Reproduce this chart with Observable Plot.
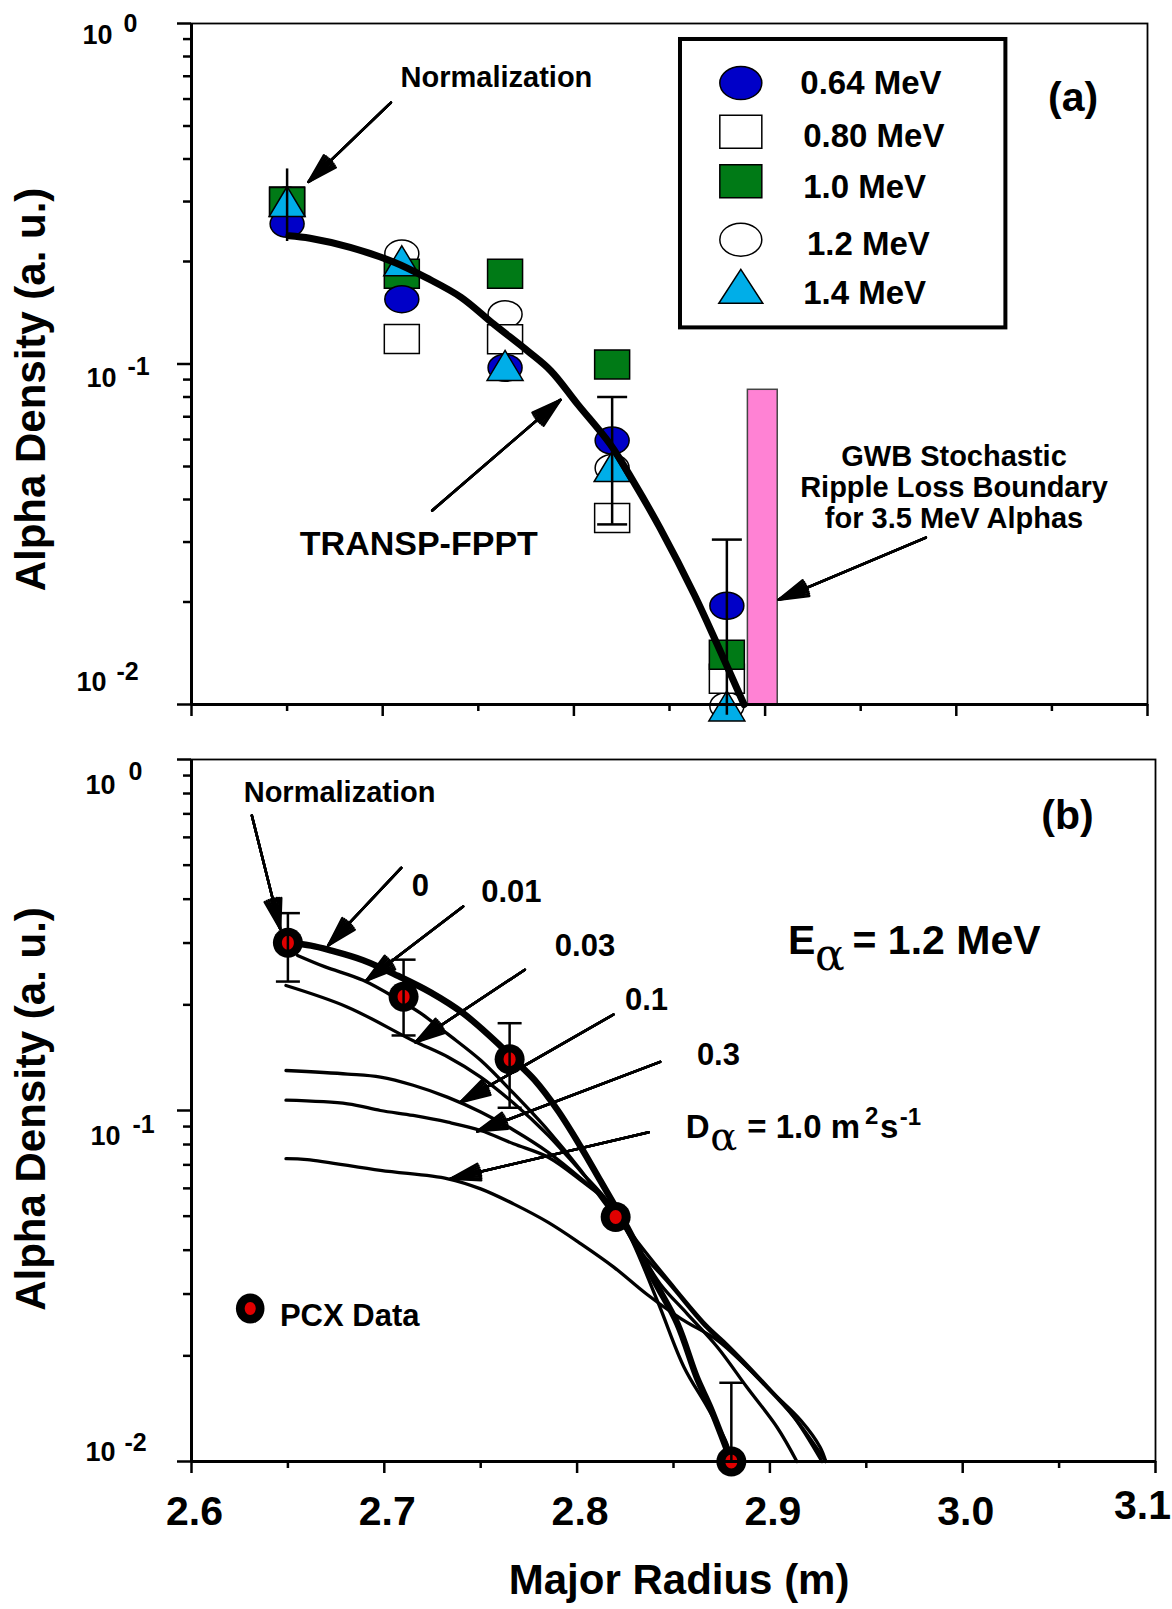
<!DOCTYPE html>
<html><head><meta charset="utf-8">
<script src="https://cdn.jsdelivr.net/npm/d3@7"></script>
<script src="https://cdn.jsdelivr.net/npm/@observablehq/plot@0.6"></script>
<style>
html,body{margin:0;padding:0;background:#fff;}
#chart{position:relative;width:1172px;height:1609px;background:#fff;overflow:hidden;}
#chart svg{position:absolute;left:0;overflow:visible;}
</style></head><body><div id="chart"></div>
<script>
// ---------------- Panel (a) data ----------------
const radiusA = [2.65, 2.71, 2.764, 2.82, 2.88];
const dens064 = [0.258, 0.155, 0.0975, 0.0596, 0.0195];
const dens080 = [0.300, 0.1185, 0.1183, 0.0353, 0.0119];
const dens100 = [0.299, 0.184, 0.184, 0.0997, 0.0140];
const dens120 = [0.302, 0.211, 0.140, 0.0495, 0.0099];
const dens140 = [0.300, 0.201, 0.099, 0.0500, 0.0099];
const errRadiusA = [2.65, 2.82, 2.88];
const errHighA = [0.374, 0.0800, 0.0305];
const errLowA = [0.229, 0.0338, 0.0093];
const transpRadius = [2.651, 2.662, 2.683, 2.706, 2.723, 2.741, 2.758, 2.776, 2.788, 2.802, 2.819, 2.831, 2.845, 2.863, 2.875, 2.889];
const transpDens = [0.238, 0.234, 0.220, 0.199, 0.179, 0.157, 0.131, 0.109, 0.0954, 0.0761, 0.0581, 0.0453, 0.0330, 0.0210, 0.0150, 0.0100];
const rippleRadius = [2.891, 2.9066];
const rippleTop = 0.084;
const legendLabelsA = ["0.64 MeV", "0.80 MeV", "1.0 MeV", "1.2 MeV", "1.4 MeV"];

// ---------------- Panel (b) data ----------------
const radiusB = [2.65, 2.71, 2.765, 2.82, 2.88];
const pcxDens = [0.3006, 0.211, 0.140, 0.0497, 0.0100];
const errRadiusB = [2.65, 2.71, 2.765, 2.88];
const errHighB = [0.365, 0.269, 0.1773, 0.01676];
const errLowB = [0.233, 0.1636, 0.1018, 0.0100];
const diffLabels = ["0", "0.01", "0.03", "0.1", "0.3", "1.0"];
const radiusD0 = [2.651, 2.662, 2.672, 2.689, 2.707, 2.724, 2.741, 2.759, 2.767, 2.778, 2.790, 2.802, 2.812, 2.821, 2.826, 2.840, 2.852, 2.862, 2.869, 2.880];
const densD0 = [0.300, 0.295, 0.286, 0.268, 0.242, 0.217, 0.189, 0.155, 0.140, 0.122, 0.100, 0.0786, 0.0632, 0.0519, 0.0465, 0.0328, 0.0247, 0.0174, 0.0143, 0.0100];
const radiusD001 = [2.655, 2.669, 2.689, 2.708, 2.719, 2.733, 2.750, 2.767, 2.785, 2.802, 2.816, 2.824, 2.8415, 2.8554, 2.8675, 2.8778, 2.880];
const densD001 = [0.2766, 0.257, 0.235, 0.206, 0.189, 0.165, 0.139, 0.112, 0.0877, 0.0675, 0.053, 0.0475, 0.0288, 0.0186, 0.0143, 0.0112, 0.0100];
const radiusD003 = [2.649, 2.681, 2.715, 2.733, 2.750, 2.767, 2.785, 2.802, 2.816, 2.831, 2.8432, 2.857, 2.8727, 2.888, 2.9038, 2.914];
const densD003 = [0.227, 0.197, 0.158, 0.142, 0.1245, 0.105, 0.085, 0.067, 0.055, 0.041, 0.032, 0.0264, 0.0212, 0.0163, 0.0125, 0.0100];
const radiusD01 = [2.649, 2.681, 2.698, 2.715, 2.733, 2.750, 2.767, 2.785, 2.802, 2.817, 2.831, 2.848, 2.867, 2.878, 2.895, 2.912, 2.927];
const densD01 = [0.130, 0.127, 0.1245, 0.118, 0.109, 0.099, 0.088, 0.076, 0.064, 0.054, 0.0425, 0.0325, 0.0245, 0.0215, 0.0172, 0.0135, 0.0100];
const radiusD03 = [2.649, 2.681, 2.698, 2.715, 2.733, 2.750, 2.767, 2.785, 2.802, 2.817, 2.831, 2.848, 2.867, 2.878, 2.895, 2.9124, 2.929];
const densD03 = [0.107, 0.1045, 0.100, 0.0968, 0.0926, 0.0877, 0.0804, 0.0736, 0.0632, 0.054, 0.0408, 0.032, 0.0241, 0.0212, 0.0170, 0.0134, 0.0100];
const radiusD1 = [2.649, 2.660, 2.698, 2.733, 2.750, 2.767, 2.785, 2.802, 2.819, 2.836, 2.854, 2.873, 2.888, 2.902, 2.916, 2.926, 2.929];
const densD1 = [0.0729, 0.0725, 0.0675, 0.0639, 0.0598, 0.0542, 0.0480, 0.0417, 0.0358, 0.0300, 0.0255, 0.0221, 0.0186, 0.0156, 0.0131, 0.0110, 0.0100];

// ---------------- Axis tick values & labels ----------------
const xTickValues = [2.6, 2.65, 2.7, 2.75, 2.8, 2.85, 2.9, 2.95, 3.0, 3.05, 3.1];
const xTickLabels = ["2.6", "2.7", "2.8", "2.9", "3.0", "3.1"];
const yTickMajor = [1, 0.1, 0.01];
const yTickExponents = ["0", "-1", "-2"];
const yTickMinor = [0.02, 0.03, 0.04, 0.05, 0.06, 0.07, 0.08, 0.09, 0.2, 0.3, 0.4, 0.5, 0.6, 0.7, 0.8, 0.9];

// ---------------- Annotation anchors (data units) ----------------
const annotA = [
  {text: "Normalization", x: 2.7595, y: 0.6908, size: 29},
  {text: "TRANSP-FPPT", x: 2.7189, y: 0.02949, size: 34},
  {text: "GWB Stochastic", x: 2.9988, y: 0.05324, size: 29},
  {text: "Ripple Loss Boundary", x: 2.9988, y: 0.04318, size: 29},
  {text: "for 3.5 MeV Alphas", x: 2.9988, y: 0.03501, size: 29},
  {text: "(a)", x: 3.0611, y: 0.6067, size: 41}
];
const arrowsA = [
  {x1: 2.7043, y1: 0.586, x2: 2.6612, y2: 0.3426},
  {x1: 2.7259, y1: 0.03713, x2: 2.7930, y2: 0.07848},
  {x1: 2.9841, y1: 0.0309, x2: 2.9071, y2: 0.02032}
];
const legendBoxA = {x1: 2.85575, x2: 3.02594, y1: 0.12765, y2: 0.8975};
const legendSymX = 2.8873;
const legendSymY = [0.6683, 0.4808, 0.3441, 0.2318, 0.1691];
const legendTextX = [2.9184, 2.9199, 2.9199, 2.9219, 2.9199];
const legendTextY = [0.6647, 0.4645, 0.3303, 0.2251, 0.1607];

const annotB = [
  {text: "Normalization", x: 2.6768, y: 0.8033, size: 29},
  {text: diffLabels[0], x: 2.7187, y: 0.4371, size: 31},
  {text: diffLabels[1], x: 2.7659, y: 0.4183, size: 31},
  {text: diffLabels[2], x: 2.8041, y: 0.2950, size: 31},
  {text: diffLabels[3], x: 2.8360, y: 0.2065, size: 31},
  {text: diffLabels[4], x: 2.8733, y: 0.1443, size: 31},
  {text: "(b)", x: 3.05436, y: 0.6930, size: 41}
];
const arrowsB = [
  {x1: 2.6313, y1: 0.6926, x2: 2.6460, y2: 0.3294},
  {x1: 2.7088, y1: 0.4913, x2: 2.6709, y2: 0.2952},
  {x1: 2.7409, y1: 0.3814, x2: 2.6907, y2: 0.2346},
  {x1: 2.7729, y1: 0.2518, x2: 2.7162, y2: 0.1565},
  {x1: 2.8189, y1: 0.1877, x2: 2.7395, y2: 0.1056},
  {x1: 2.8431, y1: 0.1376, x2: 2.7482, y2: 0.0873},
  {x1: 2.8372, y1: 0.08675, x2: 2.7343, y2: 0.06389}
];
const eAlphaAnchor = {x: 2.9094, y: 0.3042};
const dAlphaAnchor = {x: 2.8564, y: 0.0894};
const pcxLegend = {x: 2.63045, y: 0.02728, tx: 2.64585, ty: 0.02597};

// ---------------- Styling helpers ----------------
const FONT = "'Liberation Sans', Arial, Helvetica, sans-serif";
const SERIF = "'DejaVu Serif', 'Liberation Serif', serif";
const BLUE = "#0000c8", GREEN = "#007a16", CYAN = "#00aee8", PINK = "#ff82d4", RED = "#e00000";
const W = 1172;

function ellipseSymbol(rx, ry) {
  const k = 0.5523;
  return {draw(c) {
    c.moveTo(rx, 0);
    c.bezierCurveTo(rx, ry * k, rx * k, ry, 0, ry);
    c.bezierCurveTo(-rx * k, ry, -rx, ry * k, -rx, 0);
    c.bezierCurveTo(-rx, -ry * k, -rx * k, -ry, 0, -ry);
    c.bezierCurveTo(rx * k, -ry, rx, -ry * k, rx, 0);
    c.closePath();
  }};
}
function rectSymbol(w, h) {
  return {draw(c) { c.moveTo(-w/2, -h/2); c.lineTo(w/2, -h/2); c.lineTo(w/2, h/2); c.lineTo(-w/2, h/2); c.closePath(); }};
}
function triSymbol(w, h) {
  return {draw(c) { c.moveTo(0, -h/2); c.lineTo(w/2, h/2); c.lineTo(-w/2, h/2); c.closePath(); }};
}
function capSymbol(w) {
  return {draw(c) { c.moveTo(-w/2, 0); c.lineTo(w/2, 0); }};
}
function filledArrows(data) {
  return [32, 24, 16, 8, 1].map(a => Plot.arrow(data, {
    x1: "x1", y1: "y1", x2: "x2", y2: "y2",
    stroke: "black", strokeWidth: 2.5, headAngle: a, headLength: 18.5
  }));
}
const txt = (o) => Object.assign({fill: "black", fontFamily: FONT, fontWeight: "bold"}, o);

function axisMarks(plotW, plotH, labelOffsets) {
  const majorX = xTickValues.filter((d, i) => i % 2 === 0);
  const minorX = xTickValues.filter((d, i) => i % 2 === 1);
  const marks = [
    Plot.frame({stroke: "black", strokeWidth: 1.8}),
    Plot.ruleX(majorX, {x: d => d, insetTop: plotH, insetBottom: -12, stroke: "black", strokeWidth: 2.5}),
    Plot.ruleX(minorX, {x: d => d, insetTop: plotH, insetBottom: -7, stroke: "black", strokeWidth: 2.5}),
    Plot.ruleY(yTickMajor, {y: d => d, insetLeft: -14, insetRight: plotW, stroke: "black", strokeWidth: 2.5}),
    Plot.ruleY(yTickMinor, {y: d => d, insetLeft: -8, insetRight: plotW, stroke: "black", strokeWidth: 2.5}),
    Plot.ruleX([2.6], {stroke: "black", strokeWidth: 3}),
    Plot.ruleY([0.01], {stroke: "black", strokeWidth: 3})
  ];
  yTickMajor.forEach((v, i) => {
    const o = labelOffsets[i];
    marks.push(Plot.text([v], txt({y: d => d, text: () => "10", frameAnchor: "left", textAnchor: "end", lineAnchor: "middle", dx: o[0], dy: o[1], fontSize: 27})));
    marks.push(Plot.text([v], txt({y: d => d, text: () => yTickExponents[i], frameAnchor: "left", textAnchor: "start", lineAnchor: "middle", dx: o[2], dy: o[3], fontSize: 25})));
  });
  return marks;
}

// ---------------- Panel (a) ----------------
const hA = 740, mtA = 23, mbA = 36, mlA = 191, mrA = 25;
const plotWA = W - mlA - mrA, plotHA = hA - mtA - mbA;

const seriesA = [
  {values: dens064, sym: ellipseSymbol(17, 13.5), leg: ellipseSymbol(21, 16.5), fill: BLUE},
  {values: dens080, sym: rectSymbol(35, 29), leg: rectSymbol(42, 33), fill: "white"},
  {values: dens100, sym: rectSymbol(35, 29), leg: rectSymbol(42, 33), fill: GREEN},
  {values: dens120, sym: ellipseSymbol(17, 13.5), leg: ellipseSymbol(21, 16.5), fill: "white"},
  {values: dens140, sym: triSymbol(36, 30), leg: triSymbol(44, 34), fill: CYAN}
];
const drawOrderA = [3, 1, 2, 0, 4];

const errA = errRadiusA.map((r, i) => ({r, hi: errHighA[i], lo: errLowA[i]}));
const capsA = [
  {r: errRadiusA[1], v: errHighA[1]}, {r: errRadiusA[1], v: errLowA[1]},
  {r: errRadiusA[2], v: errHighA[2]}
];

const marksA = [
  Plot.rect([0], {x1: () => rippleRadius[0], x2: () => rippleRadius[1], y1: () => 0.01, y2: () => rippleTop, fill: PINK, stroke: "#444", strokeWidth: 1.5}),
  ...drawOrderA.map(k => Plot.dot(radiusA.map((r, i) => ({r, v: seriesA[k].values[i]})), {
    x: "r", y: "v", symbol: seriesA[k].sym, fill: seriesA[k].fill, stroke: "black", strokeWidth: 1.5
  })),
  Plot.line(transpRadius.map((r, i) => ({r, v: transpDens[i]})), {x: "r", y: "v", curve: "catmull-rom", stroke: "black", strokeWidth: 7, strokeLinejoin: "round"}),
  Plot.ruleX(errA, {x: "r", y1: "lo", y2: "hi", stroke: "black", strokeWidth: 2.5}),
  Plot.dot(capsA, {x: "r", y: "v", symbol: capSymbol(30), stroke: "black", strokeWidth: 2.5, fill: "none"}),
  ...filledArrows(arrowsA),
  ...annotA.map(a => Plot.text([a], txt({x: "x", y: "y", text: "text", fontSize: a.size}))),
  Plot.rect([legendBoxA], {x1: "x1", x2: "x2", y1: "y1", y2: "y2", fill: "none", stroke: "black", strokeWidth: 4}),
  ...seriesA.map((s, i) => Plot.dot([i], {x: () => legendSymX, y: () => legendSymY[i], symbol: s.leg, fill: s.fill, stroke: "black", strokeWidth: 1.5})),
  ...legendLabelsA.map((lab, i) => Plot.text([lab], txt({x: () => legendTextX[i], y: () => legendTextY[i], text: d => d, textAnchor: "start", fontSize: 33}))),
  ...axisMarks(plotWA, plotHA, [[-79, 11.4, -68, 0], [-75, 13.9, -64, 2.5], [-85, -22.6, -75, -33]]),
  Plot.text(["Alpha Density (a. u.)"], txt({text: d => d, frameAnchor: "left", textAnchor: "middle", lineAnchor: "middle", rotate: -90, dx: -160.4, dy: 25.5, fontSize: 42}))
];

const plotA = Plot.plot({
  width: W, height: hA, marginTop: mtA, marginBottom: mbA, marginLeft: mlA, marginRight: mrA,
  x: {domain: [2.6, 3.1], axis: null},
  y: {type: "log", domain: [0.01, 1], axis: null},
  style: {background: "white", fontFamily: FONT, overflow: "visible"},
  marks: marksA
});
plotA.style.top = "0px";

// ---------------- Panel (b) ----------------
const topB = 740;
const hB = 869, mtB = 19, mbB = 148, mlB = 191, mrB = 17;
const plotWB = W - mlB - mrB, plotHB = hB - mtB - mbB;

const curvesB = [
  {r: radiusD1, v: densD1, w: 3.3},
  {r: radiusD03, v: densD03, w: 3.3},
  {r: radiusD01, v: densD01, w: 3.3},
  {r: radiusD003, v: densD003, w: 3.3},
  {r: radiusD001, v: densD001, w: 3.3},
  {r: radiusD0, v: densD0, w: 6.5}
];
const errB = errRadiusB.map((r, i) => ({r, hi: errHighB[i], lo: errLowB[i]}));
const capsB = [
  ...errB.map(d => ({r: d.r, v: d.hi})),
  ...errB.slice(0, 3).map(d => ({r: d.r, v: d.lo}))
];
const pcx = radiusB.map((r, i) => ({r, v: pcxDens[i]}));

const marksB = [
  ...curvesB.map(c => Plot.line(c.r.map((r, i) => ({r, v: c.v[i]})), {x: "r", y: "v", curve: "catmull-rom", stroke: "black", strokeWidth: c.w, strokeLinejoin: "round"})),
  Plot.dot(pcx, {x: "r", y: "v", symbol: ellipseSymbol(15, 15), fill: "black", stroke: "none"}),
  Plot.dot(pcx, {x: "r", y: "v", symbol: ellipseSymbol(6, 7), fill: RED, stroke: "none"}),
  Plot.ruleX(errB, {x: "r", y1: "lo", y2: "hi", stroke: "black", strokeWidth: 2.5}),
  Plot.dot(capsB, {x: "r", y: "v", symbol: capSymbol(24), stroke: "black", strokeWidth: 2.5, fill: "none"}),
  ...filledArrows(arrowsB),
  ...annotB.map(a => Plot.text([a], txt({x: "x", y: "y", text: "text", fontSize: a.size}))),
  // E_alpha = 1.2 MeV
  Plot.text([eAlphaAnchor], txt({x: "x", y: "y", text: () => "E", textAnchor: "start", fontSize: 41})),
  Plot.text([eAlphaAnchor], {x: "x", y: "y", text: () => "α", textAnchor: "start", fontSize: 44, fontFamily: SERIF, fontWeight: "normal", fill: "black", dx: 27, dy: 14.5}),
  Plot.text([eAlphaAnchor], txt({x: "x", y: "y", text: () => "= 1.2 MeV", textAnchor: "start", fontSize: 41, dx: 64.5})),
  // D_alpha = 1.0 m^2 s^-1
  Plot.text([dAlphaAnchor], txt({x: "x", y: "y", text: () => "D", textAnchor: "start", fontSize: 33})),
  Plot.text([dAlphaAnchor], {x: "x", y: "y", text: () => "α", textAnchor: "start", fontSize: 40, fontFamily: SERIF, fontWeight: "normal", fill: "black", dx: 24.5, dy: 9.5}),
  Plot.text([dAlphaAnchor], txt({x: "x", y: "y", text: () => "= " + diffLabels[5] + " m", textAnchor: "start", fontSize: 33, dx: 61.4})),
  Plot.text([dAlphaAnchor], txt({x: "x", y: "y", text: () => "2", textAnchor: "start", fontSize: 24, dx: 179.1, dy: -11.2})),
  Plot.text([dAlphaAnchor], txt({x: "x", y: "y", text: () => "s", textAnchor: "start", fontSize: 33, dx: 194.1})),
  Plot.text([dAlphaAnchor], txt({x: "x", y: "y", text: () => "-1", textAnchor: "start", fontSize: 24, dx: 214, dy: -10.5})),
  // PCX legend
  Plot.dot([pcxLegend], {x: "x", y: "y", symbol: ellipseSymbol(14.3, 15), fill: "black"}),
  Plot.dot([pcxLegend], {x: "x", y: "y", symbol: ellipseSymbol(5.5, 6.5), fill: RED}),
  Plot.text([pcxLegend], txt({x: "tx", y: "ty", text: () => "PCX Data", textAnchor: "start", fontSize: 31})),
  ...axisMarks(plotWB, plotHB, [[-76, 25.4, -63, 12], [-71, 25.4, -59, 14.6], [-76, -9.6, -67, -19]]),
  Plot.text(xTickLabels.slice(0, 5), txt({x: d => +d, text: d => d, frameAnchor: "bottom", lineAnchor: "middle", textAnchor: "middle", dx: 3, dy: 50, fontSize: 41})),
  Plot.text(xTickLabels.slice(5), txt({x: d => +d, text: d => d, frameAnchor: "bottom", lineAnchor: "middle", textAnchor: "middle", dx: -13, dy: 44, fontSize: 41})),
  Plot.text(["Major Radius (m)"], txt({text: d => d, frameAnchor: "bottom", lineAnchor: "middle", textAnchor: "middle", dx: 5.6, dy: 118.6, fontSize: 42})),
  Plot.text(["Alpha Density (a. u.)"], txt({text: d => d, frameAnchor: "left", textAnchor: "middle", lineAnchor: "middle", rotate: -90, dx: -160.4, dy: -1.5, fontSize: 42}))
];

const plotB = Plot.plot({
  width: W, height: hB, marginTop: mtB, marginBottom: mbB, marginLeft: mlB, marginRight: mrB,
  x: {domain: [2.6, 3.1], axis: null},
  y: {type: "log", domain: [0.01, 1], axis: null},
  style: {background: "white", fontFamily: FONT, overflow: "visible"},
  marks: marksB
});
plotB.style.top = topB + "px";

const chart = document.getElementById("chart");
chart.appendChild(plotB);
chart.appendChild(plotA);
</script></body></html>
